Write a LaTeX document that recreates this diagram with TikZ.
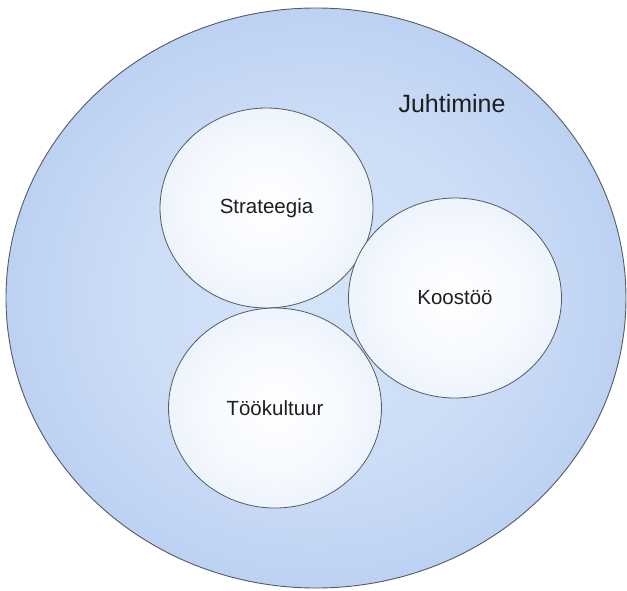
\documentclass[tikz,border=0pt]{standalone}
\usepackage{fontspec}
\setmainfont{Liberation Sans}
\usetikzlibrary{shapes.geometric}
\definecolor{edgegray}{RGB}{85,90,100}
\definecolor{txt}{RGB}{30,30,30}
\pgfdeclareradialshading{bigshade}{\pgfpoint{0bp}{0bp}}{%
  rgb(0bp)=(0.83,0.895,0.975);
  rgb(15bp)=(0.80,0.865,0.965);
  rgb(25bp)=(0.74,0.82,0.95);
  rgb(35.4bp)=(0.62,0.735,0.93);
  rgb(50bp)=(0.62,0.735,0.93)}
\pgfdeclareradialshading{smallshade}{\pgfpoint{0bp}{0bp}}{%
  rgb(0bp)=(1,1,1);
  rgb(17.7bp)=(0.96,0.975,0.996);
  rgb(35.4bp)=(0.89,0.925,0.98);
  rgb(50bp)=(0.89,0.925,0.98)}
\tikzset{
  bigcircle/.style={ellipse, draw=edgegray, line width=0.9pt, inner sep=0pt,
    minimum width=620pt, minimum height=580pt, shading=bigshade},
  smallcircle/.style={ellipse, draw=edgegray, line width=0.8pt, inner sep=0pt,
    minimum width=213pt, minimum height=200pt, shading=smallshade, text=txt,
    font=\fontsize{20.5}{24}\selectfont},
  title/.style={text=txt, font=\fontsize{25}{30}\selectfont, inner sep=0pt}
}
\begin{document}
\begin{tikzpicture}[x=1pt,y=-1pt]
\useasboundingbox (0,0) rectangle (627,590);
\node[bigcircle] (juht) at (316,298) {};
\node[title] (juhtlabel) at (452,104) {Juhtimine};
\node[smallcircle] (strat) at (266.5,208) {Strateegia};
\node[smallcircle] (koos) at (455,298) {Koostöö};
\node[smallcircle] (tkult) at (275,408) {Töökultuur};
\end{tikzpicture}
\end{document}
